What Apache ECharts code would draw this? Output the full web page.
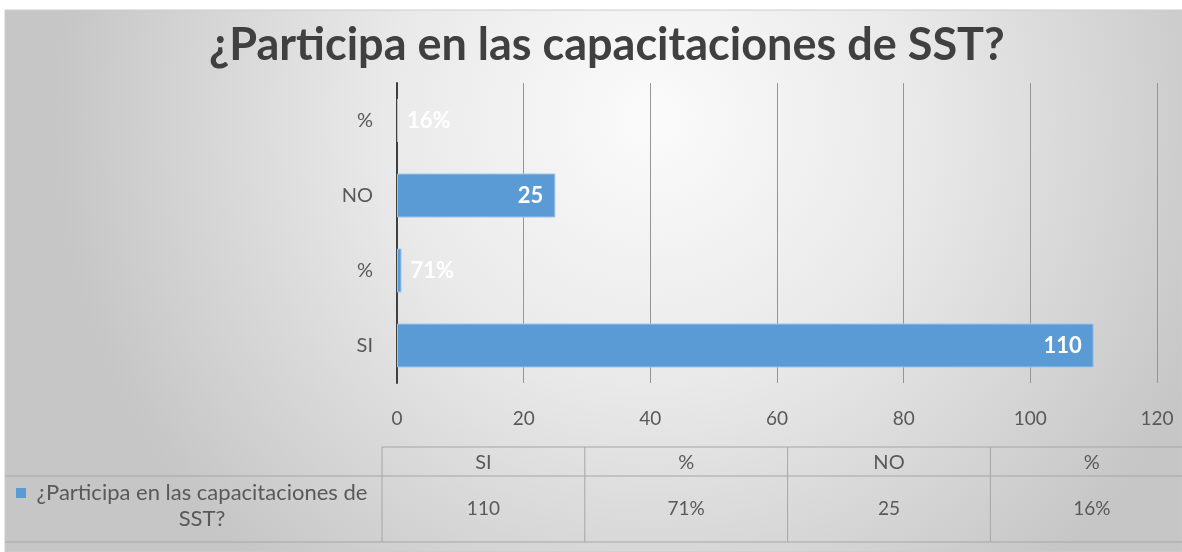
<!DOCTYPE html>
<html>
<head>
<meta charset="utf-8">
<script src="https://cdn.jsdelivr.net/npm/echarts@6/dist/echarts.min.js"></script>
<style>
html, body { margin: 0; padding: 0; background: #fff; }
#chart { width: 1182px; height: 552px; }
</style>
</head>
<body>
<div id="chart"></div>
<script>
// datos
const titleText = '¿Participa en las capacitaciones de SST?'
const seriesName = '¿Participa en las capacitaciones de SST?'
const categories = ['SI', '%', 'NO', '%']
const values = [110, 0.71, 25, 0.16]
const valueLabels = ['110', '71%', '25', '16%']

const font = 'Lato, "Open Sans", sans-serif'
const textColor = '#595959'
const lineColor = '#a6a6a6'

// tabla de datos debajo del eje
const tableLeft = 382
const colW = 202.8
const headTop = 447
const midY = 476
const bottomY = 542

const tableGraphics = []
tableGraphics.push({ type: 'line', shape: { x1: tableLeft, y1: headTop, x2: 1182, y2: headTop }, style: { stroke: lineColor, lineWidth: 1 } })
tableGraphics.push({ type: 'line', shape: { x1: 5, y1: midY, x2: 1182, y2: midY }, style: { stroke: lineColor, lineWidth: 1 } })
tableGraphics.push({ type: 'line', shape: { x1: 5, y1: bottomY, x2: 1182, y2: bottomY }, style: { stroke: lineColor, lineWidth: 1 } })
categories.forEach((c, i) => {
  const x0 = tableLeft + i * colW
  tableGraphics.push({ type: 'line', shape: { x1: x0, y1: headTop, x2: x0, y2: bottomY }, style: { stroke: lineColor, lineWidth: 1 } })
  tableGraphics.push({ type: 'text', x: x0 + colW / 2, y: (headTop + midY) / 2 + 1, style: { text: c, fill: textColor, font: '20px ' + font, align: 'center', verticalAlign: 'middle' } })
  tableGraphics.push({ type: 'text', x: x0 + colW / 2, y: (midY + bottomY) / 2, style: { text: valueLabels[i], fill: textColor, font: '19px ' + font, align: 'center', verticalAlign: 'middle' } })
})
tableGraphics.push({ type: 'rect', shape: { x: 16, y: 488, width: 10, height: 10 }, style: { fill: '#5b9bd5' } })
tableGraphics.push({ type: 'text', x: 202, y: 506, style: { text: seriesName.replace(/ (\S+)$/, '\n$1'), fill: textColor, font: '22px ' + font, align: 'center', verticalAlign: 'middle', lineHeight: 26 } })

const chart = echarts.init(document.getElementById('chart'))
chart.setOption({
  animation: false,
  title: {
    text: titleText,
    left: 204,
    top: 18,
    textStyle: { fontFamily: font, fontSize: 45, fontWeight: 'bold', color: '#404040' }
  },
  graphic: [
    {
      type: 'rect', z: -10, silent: true,
      shape: { x: 5, y: 10, width: 1177, height: 542 },
      style: {
        fill: {
          type: 'radial', x: 0.55, y: 0.2, r: 1.1,
          colorStops: [{ offset: 0, color: '#fbfbfb' }, { offset: 0.45, color: '#e9e9e9' }, { offset: 1, color: '#c6c6c6' }]
        },
        stroke: '#cccccc'
      }
    },
    ...tableGraphics
  ],
  grid: { left: 397, right: 25, top: 83, bottom: 169 },
  xAxis: {
    type: 'value',
    min: 0, max: 120, interval: 20,
    axisLine: { show: false },
    axisTick: { show: false },
    axisLabel: { color: textColor, fontFamily: font, fontSize: 19, margin: 26 },
    splitLine: { lineStyle: { color: '#959595', width: 1 } }
  },
  yAxis: {
    type: 'category',
    data: categories.map((c, i) => i),
    axisLine: { lineStyle: { color: '#404040', width: 2 } },
    axisTick: { show: false },
    axisLabel: { color: textColor, fontFamily: font, fontSize: 20, margin: 24, formatter: (v) => categories[v] }
  },
  series: [{
    name: seriesName,
    type: 'bar',
    barWidth: 44,
    itemStyle: { color: '#5b9bd5', borderColor: '#9fc5ea', borderWidth: 1 },
    label: {
      show: true,
      position: 'insideRight',
      distance: 12,
      color: '#fff',
      fontFamily: font,
      fontSize: 22,
      fontWeight: 'bold',
      formatter: (p) => valueLabels[p.dataIndex]
    },
    data: values.map((v, i) => ({
      value: v,
      label: v < 5 ? { position: 'right', distance: 9 } : {}
    }))
  }]
})
</script>
</body>
</html>
